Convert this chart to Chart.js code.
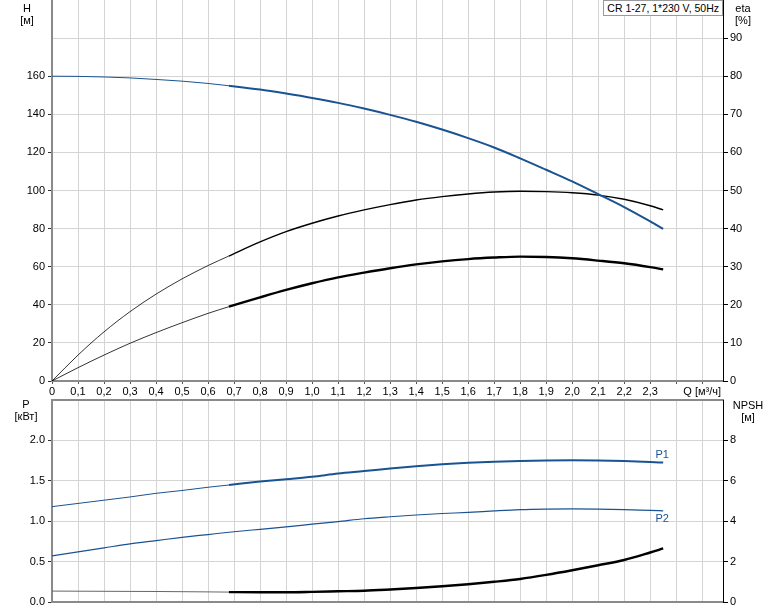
<!DOCTYPE html>
<html>
<head>
<meta charset="utf-8">
<script src="https://cdn.jsdelivr.net/npm/chart.js@4.4.0/dist/chart.umd.min.js"></script>
<style>
    body { margin: 0; background: #fff; }
    #wrap { position: relative; width: 774px; height: 611px; font-family: "Liberation Sans", Arial, sans-serif; font-size: 11px; color: #000; }
    canvas { position: absolute; left: 0; }
    #top-chart { top: 0; }
    #bottom-chart { top: 395px; }
    .lbl { position: absolute; text-align: center; line-height: 12px; }
    .info { position: absolute; right: 51px; top: 0; height: 16px; padding: 0 3px; box-sizing: border-box; border: 1px solid #999; background: #fff; white-space: nowrap; line-height: 14px; font-size: 10.5px; }
</style>
</head>
<body>
<div id="wrap">
    <canvas id="top-chart" width="774" height="399"></canvas>
    <canvas id="bottom-chart" width="774" height="216"></canvas>
    <div class="lbl" style="left:14px; top:2px; width:26px;">H<br>[м]</div>
    <div class="lbl" style="left:730px; top:2px; width:26px;">eta<br>[%]</div>
    <div class="lbl" style="left:10px; top:398px; width:32px;">P<br>[кВт]</div>
    <div class="lbl" style="left:726px; top:399px; width:44px;">NPSH<br>[м]</div>
    <div class="info">CR 1-27, 1*230 V, 50Hz</div>
</div>
<script>
// flow points shared by every curve (m3/h)
const q = [0, 0.1, 0.2, 0.3, 0.4, 0.5, 0.6, 0.68, 0.8, 0.9, 1.0, 1.1, 1.2, 1.3, 1.4, 1.5, 1.6, 1.7, 1.8, 1.9, 2.0, 2.1, 2.2, 2.3, 2.35];
const head = [160, 159.9, 159.6, 159.1, 158.3, 157.4, 156.2, 155.0, 153.0, 150.9, 148.6, 146.0, 143.0, 139.7, 136.1, 132.0, 127.5, 122.6, 116.9, 110.9, 104.8, 98.1, 91.3, 83.8, 79.9];
const etaPump = [0, 6.8, 12.9, 18.2, 22.8, 26.8, 30.3, 32.8, 36.5, 39.2, 41.4, 43.3, 44.9, 46.3, 47.5, 48.4, 49.1, 49.6, 49.8, 49.7, 49.4, 48.8, 47.7, 46.0, 44.9];
const etaTotal = [0, 3.5, 6.8, 9.9, 12.7, 15.3, 17.75, 19.5, 21.95, 23.9, 25.65, 27.2, 28.45, 29.6, 30.6, 31.4, 32.0, 32.4, 32.65, 32.55, 32.2, 31.6, 30.9, 29.9, 29.3];
const p1 = [1.18, 1.22, 1.26, 1.30, 1.345, 1.38, 1.42, 1.448, 1.49, 1.52, 1.55, 1.59, 1.62, 1.652, 1.68, 1.705, 1.724, 1.737, 1.746, 1.752, 1.755, 1.752, 1.745, 1.732, 1.725];
const p2 = [0.57, 0.62, 0.67, 0.72, 0.76, 0.80, 0.835, 0.863, 0.90, 0.93, 0.963, 0.995, 1.03, 1.055, 1.077, 1.095, 1.108, 1.127, 1.143, 1.15, 1.152, 1.15, 1.144, 1.133, 1.128];
const npsh = [0.54, 0.535, 0.53, 0.525, 0.52, 0.51, 0.5, 0.49, 0.48, 0.48, 0.5, 0.53, 0.56, 0.62, 0.69, 0.78, 0.88, 1.0, 1.14, 1.34, 1.57, 1.82, 2.08, 2.45, 2.65];

// axis ticks and labels
const qTicks = [0, 0.1, 0.2, 0.3, 0.4, 0.5, 0.6, 0.7, 0.8, 0.9, 1.0, 1.1, 1.2, 1.3, 1.4, 1.5, 1.6, 1.7, 1.8, 1.9, 2.0, 2.1, 2.2, 2.3, 2.4, 2.5];
const qTickLabels = ['0', '0,1', '0,2', '0,3', '0,4', '0,5', '0,6', '0,7', '0,8', '0,9', '1,0', '1,1', '1,2', '1,3', '1,4', '1,5', '1,6', '1,7', '1,8', '1,9', '2,0', '2,1', '2,2', '2,3', '', 'Q [м³/ч]'];
const hTicks = [0, 20, 40, 60, 80, 100, 120, 140, 160, 180, 200];
const hTickLabels = ['0', '20', '40', '60', '80', '100', '120', '140', '160', '', null];
const etaTicks = [0, 10, 20, 30, 40, 50, 60, 70, 80, 90, 100];
const etaTickLabels = ['0', '10', '20', '30', '40', '50', '60', '70', '80', '90', null];
const pTicks = [0, 0.5, 1.0, 1.5, 2.0, 2.5];
const pTickLabels = ['0.0', '0.5', '1.0', '1.5', '2.0', null];
const npshTicks = [0, 2, 4, 6, 8, 10];
const npshTickLabels = ['0', '2', '4', '6', '8', null];

const Q_MAX = 2.58;
const SPLIT = 0.68;
const BLUE = '#1a5391';
const GRID = '#d4d4d4';
const AXIS = '#8a8a8a';
const FONT = '"Liberation Sans", Arial, sans-serif';

const pts = values => q.map((x, i) => ({ x, y: values[i] }));
const seg = (thin, thick) => ctx => ctx.p0.parsed.x >= SPLIT - 1e-9 ? thick : thin;
const setTicks = list => scale => { scale.ticks = list.map(v => ({ value: v })); };
const tickFont = { size: 11, family: FONT };

// fixed axis width, and no extra room reserved above/below for the end labels
const fitY = width => s => { s.width = width; s.paddingTop = 0; s.paddingBottom = 0; };

function leftAxis(min, max, ticks, labels, maxLabelled) {
    return {
        position: 'left', min, max,
        afterBuildTicks: setTicks(ticks),
        afterFit: fitY(52),
        ticks: { callback: (v, i) => labels[i], color: '#000', font: tickFont, padding: 3, autoSkip: false },
        grid: {
            color: GRID, tickLength: 4,
            tickColor: ctx => ctx.tick && ctx.tick.value > maxLabelled ? 'rgba(0,0,0,0)' : '#333'
        },
        border: { color: AXIS, width: 2 }
    };
}

function rightAxis(min, max, ticks, labels) {
    return {
        position: 'right', min, max,
        afterBuildTicks: setTicks(ticks),
        afterFit: fitY(51),
        ticks: { callback: (v, i) => labels[i], color: '#000', font: tickFont, padding: 2, autoSkip: false },
        grid: { drawOnChartArea: false, tickLength: 5, tickColor: '#000' },
        border: { color: '#000', width: 1 }
    };
}

const baseOptions = {
    responsive: false,
    animation: false,
    events: [],
    plugins: { legend: { display: false }, tooltip: { enabled: false } },
    elements: { point: { radius: 0, hoverRadius: 0 }, line: { cubicInterpolationMode: 'monotone' } }
};

new Chart(document.getElementById('top-chart'), {
    type: 'line',
    data: {
        datasets: [
            { data: pts(head), yAxisID: 'y', borderColor: BLUE, segment: { borderWidth: seg(1, 2) } },
            { data: pts(etaPump), yAxisID: 'y2', borderColor: '#000', segment: { borderWidth: seg(0.8, 1.4) } },
            { data: pts(etaTotal), yAxisID: 'y2', borderColor: '#000', segment: { borderWidth: seg(0.8, 2.4) } }
        ]
    },
    options: {
        ...baseOptions,
        layout: { padding: 0, autoPadding: false },
        scales: {
            x: {
                type: 'linear', min: 0, max: Q_MAX,
                afterBuildTicks: setTicks(qTicks),
                afterFit: s => { s.height = 18; },
                ticks: { callback: (v, i) => qTickLabels[i], color: '#000', font: tickFont, padding: 1, maxRotation: 0, autoSkip: false },
                grid: { color: GRID, tickLength: 3, tickColor: '#555' },
                border: { color: AXIS, width: 2 }
            },
            y: leftAxis(0, 200, hTicks, hTickLabels, 160),
            y2: rightAxis(0, 100, etaTicks, etaTickLabels)
        }
    }
});

const curveLabels = {
    id: 'curveLabels',
    afterDatasetsDraw(chart) {
        const { ctx, scales } = chart;
        const x = scales.x.getPixelForValue(q[q.length - 1]);
        ctx.save();
        ctx.font = '11px ' + FONT;
        ctx.fillStyle = BLUE;
        ctx.textAlign = 'center';
        ctx.textBaseline = 'bottom';
        ctx.fillText('P1', x - 1, scales.y.getPixelForValue(p1[p1.length - 1]) - 2);
        ctx.textBaseline = 'top';
        ctx.fillText('P2', x - 1, scales.y.getPixelForValue(p2[p2.length - 1]) + 3);
        ctx.restore();
    }
};

new Chart(document.getElementById('bottom-chart'), {
    type: 'line',
    data: {
        datasets: [
            { data: pts(p1), yAxisID: 'y', borderColor: BLUE, segment: { borderWidth: seg(1, 2) } },
            { data: pts(p2), yAxisID: 'y', borderColor: BLUE, borderWidth: 1.2 },
            {
                data: pts(npsh), yAxisID: 'y2',
                segment: { borderWidth: seg(1, 2.4), borderColor: seg('#666', '#000') }
            }
        ]
    },
    options: {
        ...baseOptions,
        layout: { padding: { top: 5 }, autoPadding: false },
        scales: {
            x: {
                type: 'linear', min: 0, max: Q_MAX,
                afterBuildTicks: setTicks(qTicks),
                afterFit: s => { s.height = 9; },
                ticks: { display: false },
                grid: { color: GRID, drawTicks: false },
                border: { color: AXIS, width: 2 }
            },
            xTop: {
                type: 'linear', position: 'top', min: 0, max: Q_MAX,
                ticks: { display: false },
                grid: { drawOnChartArea: false, drawTicks: false },
                border: { color: AXIS, width: 2 }
            },
            y: leftAxis(0, 2.5, pTicks, pTickLabels, 2.0),
            y2: rightAxis(0, 10, npshTicks, npshTickLabels)
        }
    },
    plugins: [curveLabels]
});
</script>
</body>
</html>
